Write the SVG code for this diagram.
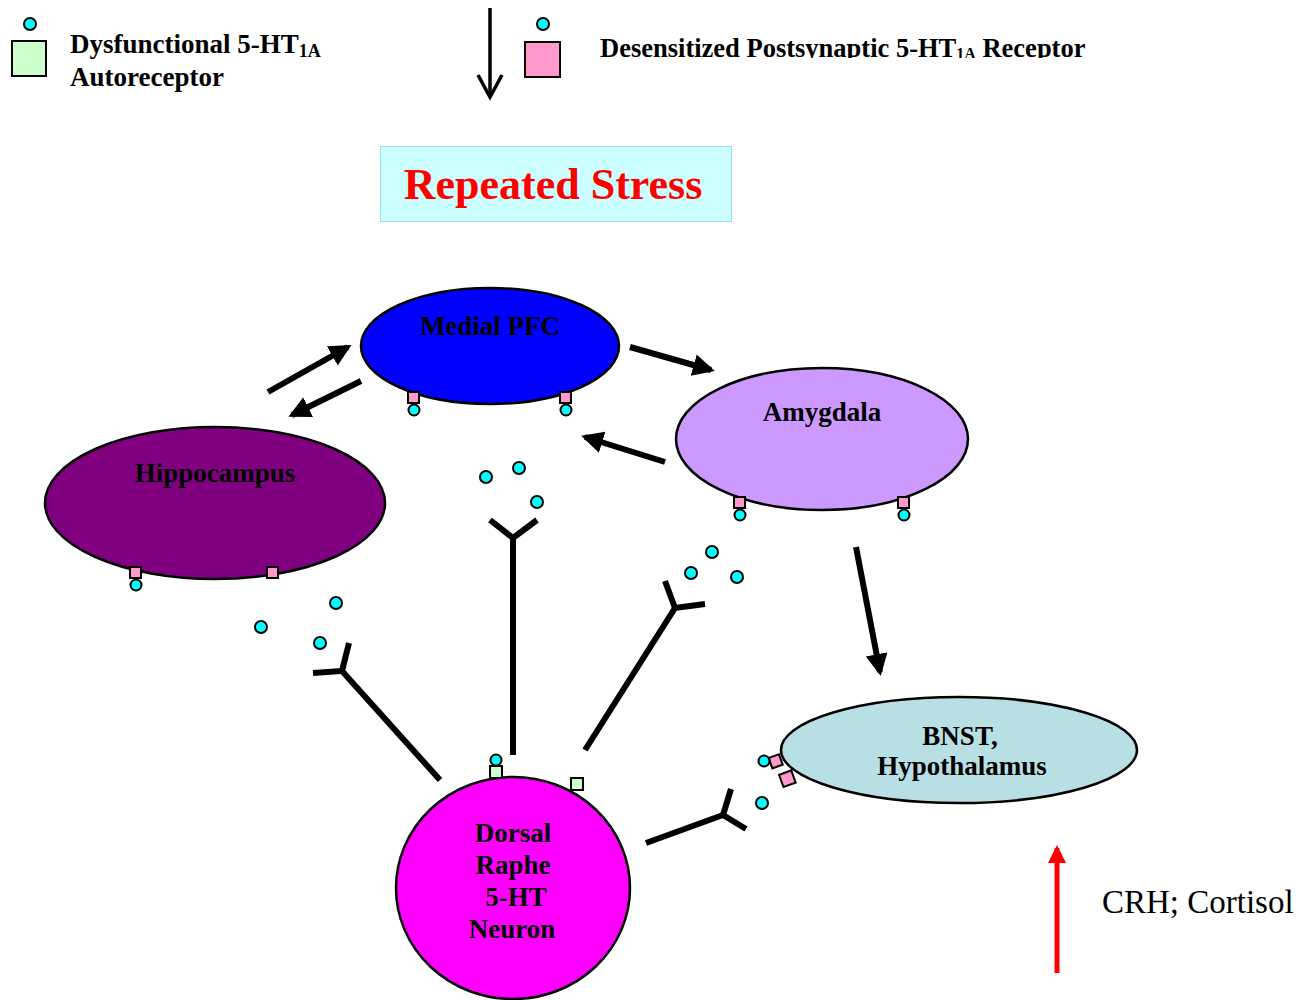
<svg xmlns="http://www.w3.org/2000/svg" width="1313" height="1000" viewBox="0 0 1313 1000">
<style>
.lbl{font-family:"Liberation Serif","Times New Roman",serif;font-weight:bold;font-size:27px;fill:#000}
.node{stroke:#000;stroke-width:2.5}
.pink{fill:#FF99CC;stroke:#000;stroke-width:2}
.green{fill:#CCFFCC;stroke:#000;stroke-width:2}
.dot{fill:#00FFFF;stroke:#000;stroke-width:2}
.axon{stroke:#000;stroke-width:6;fill:none;stroke-linecap:butt}
.arrow{stroke:#000;stroke-width:6;fill:none;marker-end:url(#ah)}
</style>
<defs>
<marker id="ah" markerUnits="userSpaceOnUse" markerWidth="26" markerHeight="24" refX="18" refY="11" orient="auto">
<path d="M0,0 L22,11 L0,22 z" fill="#000"/>
</marker>
<marker id="rh" markerUnits="userSpaceOnUse" markerWidth="22" markerHeight="22" refX="15" refY="9" orient="auto">
<path d="M0,0 L18,9 L0,18 z" fill="#FF0000"/>
</marker>
<clipPath id="legclip"><rect x="590" y="0" width="520" height="58"/></clipPath>
</defs>
<rect width="1313" height="1000" fill="#fff"/>

<g id="legend-auto">
<circle class="dot" cx="30" cy="24" r="6"/>
<rect class="green" x="12" y="41" width="34" height="35"/>
<text class="lbl" x="70" y="53">Dysfunctional 5-HT<tspan font-size="18" dy="4">1A</tspan></text>
<text class="lbl" x="70" y="86">Autoreceptor</text>
</g>

<g id="legend-arrow">
<line x1="490" y1="8" x2="490" y2="96" stroke="#000" stroke-width="3.5"/>
<polyline points="478,75 490,97 502,75" fill="none" stroke="#000" stroke-width="3.5"/>
</g>

<g id="legend-post">
<circle class="dot" cx="543" cy="24" r="6"/>
<rect class="pink" x="525" y="42" width="35" height="35"/>
<text class="lbl" x="600" y="57" font-size="26.5" clip-path="url(#legclip)" style="font-size:26.5px">Desensitized Postsynaptic 5-HT<tspan font-size="16" dy="2" style="font-size:16px">1A</tspan><tspan dy="-2"> Receptor</tspan></text>
</g>

<g id="stress">
<rect x="380.5" y="146.5" width="351" height="75" fill="#CCFFFF" stroke="#99DDEE" stroke-width="1"/>
<text x="553" y="199" text-anchor="middle" font-family="Liberation Serif,Times New Roman,serif" font-weight="bold" font-size="44" fill="#FF0000">Repeated Stress</text>
</g>

<g id="connectors">
<line class="arrow" x1="268" y1="392" x2="348" y2="347"/>
<line class="arrow" x1="361" y1="381" x2="292" y2="415"/>
<line class="arrow" x1="630" y1="347" x2="711" y2="370"/>
<line class="arrow" x1="665" y1="462" x2="585" y2="437"/>
<line class="arrow" x1="856" y1="547" x2="880" y2="672"/>
<line x1="1057" y1="973" x2="1057" y2="848" stroke="#FF0000" stroke-width="5" marker-end="url(#rh)"/>
<polyline class="axon" points="513,755 513,538"/>
<polyline class="axon" points="490,520 513,538 537,520"/>
<polyline class="axon" points="585,750 675,608"/>
<polyline class="axon" points="665,581 675,608 705,604"/>
<polyline class="axon" points="440,780 342,671"/>
<polyline class="axon" points="349,643 342,671 313,673"/>
<polyline class="axon" points="646,843 723,815"/>
<polyline class="axon" points="731,789 723,815 746,829"/>
</g>

<g id="transmitters">
<circle class="dot" cx="486" cy="477" r="6"/>
<circle class="dot" cx="519" cy="468" r="6"/>
<circle class="dot" cx="537" cy="502" r="6"/>
<circle class="dot" cx="712" cy="552" r="6"/>
<circle class="dot" cx="691" cy="573" r="6"/>
<circle class="dot" cx="737" cy="577" r="6"/>
<circle class="dot" cx="261" cy="627" r="6"/>
<circle class="dot" cx="336" cy="603" r="6"/>
<circle class="dot" cx="320" cy="643" r="6"/>
<circle class="dot" cx="762" cy="803" r="6"/>
</g>

<g id="medial-pfc">
<ellipse class="node" cx="490" cy="346" rx="129" ry="58" fill="#0000FF"/>
<rect class="pink" x="408" y="392" width="11" height="11"/>
<rect class="pink" x="560" y="392" width="11" height="11"/>
<circle class="dot" cx="414" cy="410" r="5.5"/>
<circle class="dot" cx="566" cy="410" r="5.5"/>
<text class="lbl" x="490" y="335" text-anchor="middle">Medial PFC</text>
</g>

<g id="amygdala">
<ellipse class="node" cx="822" cy="439" rx="146" ry="71" fill="#CC99FF"/>
<rect class="pink" x="734" y="497" width="11" height="11"/>
<rect class="pink" x="898" y="497" width="11" height="11"/>
<circle class="dot" cx="740" cy="515" r="5.5"/>
<circle class="dot" cx="904" cy="515" r="5.5"/>
<text class="lbl" x="822" y="421" text-anchor="middle">Amygdala</text>
</g>

<g id="hippocampus">
<ellipse class="node" cx="215" cy="503" rx="170" ry="76" fill="#800080"/>
<rect class="pink" x="130" y="567" width="11" height="11"/>
<rect class="pink" x="267" y="567" width="11" height="11"/>
<circle class="dot" cx="136" cy="585" r="5.5"/>
<text class="lbl" x="215" y="482" text-anchor="middle">Hippocampus</text>
</g>

<g id="bnst">
<ellipse class="node" cx="959" cy="750" rx="178" ry="53" fill="#B8DFE4"/>
<rect class="pink" x="770" y="756" width="11" height="11" transform="rotate(-20 775 761)"/>
<rect class="pink" x="781" y="772" width="13" height="13" transform="rotate(-20 788 779)"/>
<circle class="dot" cx="764" cy="761" r="5.5"/>
<text class="lbl" x="960" y="745" text-anchor="middle">BNST,</text>
<text class="lbl" x="962" y="775" text-anchor="middle">Hypothalamus</text>
</g>

<g id="dorsal-raphe">
<ellipse class="node" cx="513" cy="888" rx="117" ry="111" fill="#FF00FF"/>
<rect class="green" x="490" y="766" width="12" height="12"/>
<circle class="dot" cx="496" cy="760" r="5.5"/>
<rect class="green" x="571" y="778" width="12" height="12"/>
<text class="lbl" text-anchor="middle"><tspan x="513" y="842">Dorsal</tspan><tspan x="513" y="874">Raphe</tspan><tspan x="516" y="906">5-HT</tspan><tspan x="512" y="938">Neuron</tspan></text>
</g>

<g id="crh">
<text x="1102" y="913" font-family="Liberation Serif,Times New Roman,serif" font-size="33" fill="#000">CRH; Cortisol</text>
</g>
</svg>
